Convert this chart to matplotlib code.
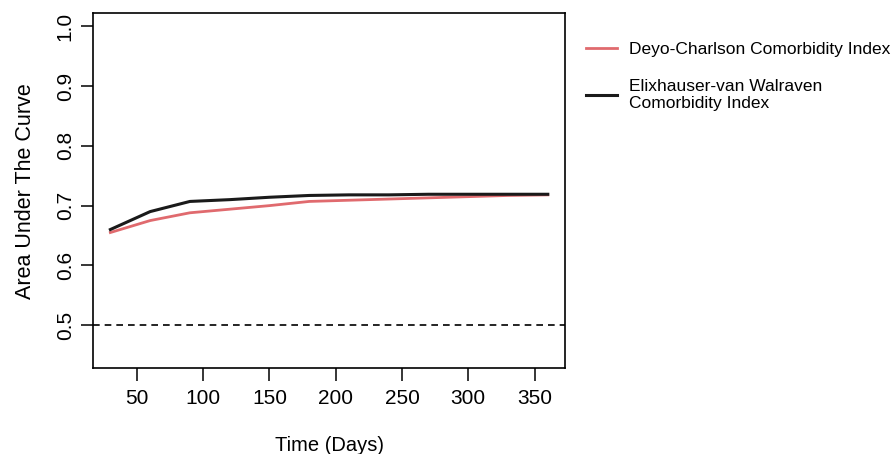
import matplotlib.pyplot as plt

days = [30, 60, 90, 120, 150, 180, 210, 240, 270, 300, 330, 360]
auc_charlson = [0.655, 0.675, 0.688, 0.694, 0.700, 0.707, 0.709, 0.711, 0.713, 0.715, 0.717, 0.718]
auc_elix = [0.660, 0.690, 0.707, 0.710, 0.714, 0.717, 0.718, 0.718, 0.719, 0.719, 0.719, 0.719]
labels = ["Deyo-Charlson Comorbidity Index", "Elixhauser-van Walraven\nComorbidity Index"]

plt.rcParams['font.family'] = ['Liberation Sans', 'DejaVu Sans']

fig = plt.figure(figsize=(8.93, 4.54), dpi=100)
ax = fig.add_axes([0.104, 0.189, 0.529, 0.782])

l1, = ax.plot(days, auc_charlson, color='#E06A6E', lw=2)
l2, = ax.plot(days, auc_elix, color='#1a1a1a', lw=2.2)
ax.axhline(0.5, color='black', lw=1.2, ls=(0, (4, 3)))

# R-like 4% padding
ax.set_xlim(30 - 330 * 0.04, 360 + 330 * 0.04)
ax.set_ylim(0.5 - 0.55 * 0.04 - 0.05, 1.0 + 0.55 * 0.04)
ax.set_xticks([50, 100, 150, 200, 250, 300, 350])
ax.set_yticks([0.5, 0.6, 0.7, 0.8, 0.9, 1.0])
ax.set_yticklabels(['0.5', '0.6', '0.7', '0.8', '0.9', '1.0'], rotation=90, va='center')
ax.tick_params(labelsize=15, length=9, width=1.1)
ax.tick_params(axis='x', pad=6)
ax.tick_params(axis='y', pad=4)
ax.set_xlabel('Time (Days)', fontsize=14.5, labelpad=20)
ax.set_ylabel('Area Under The Curve', fontsize=15.5, labelpad=14)
for s in ax.spines.values():
    s.set_linewidth(1.2)

fig.legend([l1, l2], labels, loc='upper left', bbox_to_anchor=(586 / 893, 1 - 42 / 454),
           frameon=False, fontsize=12.5, handlelength=1.8, handletextpad=0.65,
           labelspacing=1.25, borderpad=0, borderaxespad=0)

fig.savefig('out.png', dpi=100)
